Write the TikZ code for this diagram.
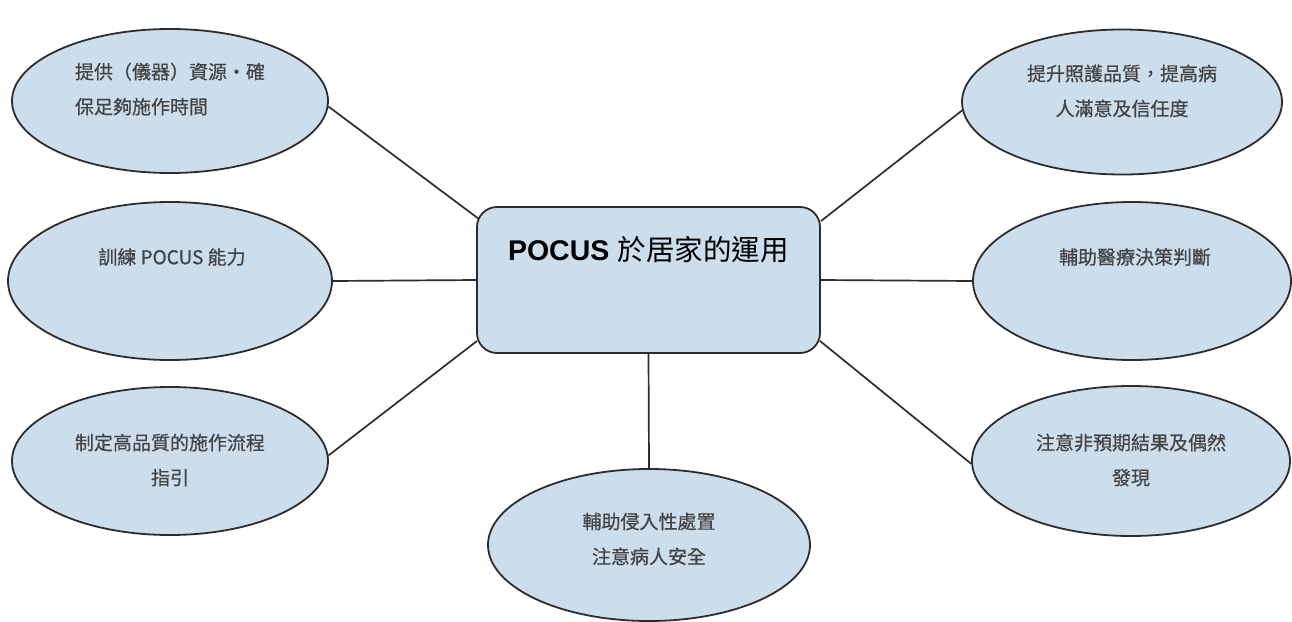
\documentclass[tikz,border=0pt]{standalone}
\usepackage{fontspec}
\usetikzlibrary{shapes.geometric,calc}
\newfontfamily\cjk{Noto Sans CJK TC}
\newfontfamily\cjkb[FakeBold=0.6]{Noto Sans CJK TC}
\newfontfamily\arialb{Liberation Sans}
\definecolor{bubble}{RGB}{204,221,236}
\definecolor{edge}{RGB}{45,45,45}
\definecolor{txt}{RGB}{68,68,68}
\tikzset{
  bub/.style={ellipse, draw=edge, line width=1.8pt, fill=bubble, inner sep=0pt},
  hub/.style={rectangle, rounded corners=20pt, draw=edge, line width=1.8pt, fill=bubble, inner sep=0pt, minimum width=343pt, minimum height=146pt},
  btxt/.style={font=\cjkb\fontsize{19}{35}\selectfont, text=txt, align=center, inner sep=0pt},
  link/.style={draw=edge, line width=1.7pt}
}
\begin{document}
\begin{tikzpicture}[x=1pt,y=-1pt]
\useasboundingbox[fill=white] (0,0) rectangle (1292,621);
% hub
\node[hub] (box) at (648.5,280) {};
\node[font=\fontsize{28.5}{30}\selectfont, inner sep=0pt, anchor=center] (title) at (648.5,250) {{\arialb\bfseries POCUS} {\cjk 於居家的運用}};
% bubbles
\node[bub, minimum width=316pt, minimum height=144pt] (tl) at (170,101) {};
\node[bub, minimum width=324pt, minimum height=158pt] (lm) at (170,281) {};
\node[bub, minimum width=316pt, minimum height=148pt] (bl) at (170,461) {};
\node[bub, minimum width=320pt, minimum height=145pt] (tr) at (1122,102) {};
\node[bub, minimum width=318pt, minimum height=158pt] (rm) at (1132,281) {};
\node[bub, minimum width=318pt, minimum height=150pt] (br) at (1131,461) {};
\node[bub, minimum width=322pt, minimum height=152pt] (bot) at (649,545) {};
% texts
\node[btxt, align=left] (tlt) at (170,89) {提供（儀器）資源‧確\\保足夠施作時間};
\node[btxt] (lmt) at (172,257) {訓練 POCUS 能力};
\node[btxt] (blt) at (170,460) {制定高品質的施作流程\\指引};
\node[btxt] (trt) at (1122,91) {提升照護品質，提高病\\人滿意及信任度};
\node[btxt] (rmt) at (1135,257) {輔助醫療決策判斷};
\node[btxt] (brt) at (1131,460) {注意非預期結果及偶然\\發現};
\node[btxt] (bott) at (649,539) {輔助侵入性處置\\注意病人安全};
% connectors
\draw[link] (tl.-2) -- ($(box.north west)+(3,13)$);
\draw[link] (lm.east) -- (box.west);
\draw[link] (bl.2) -- ($(box.south west)+(1,-13)$);
\draw[link] (tr.183) -- ($(box.north east)+(0,15)$);
\draw[link] (rm.west) -- (box.east);
\draw[link] (br.181) -- ($(box.south east)+(-1,-13)$);
\draw[link] (box.south) -- (bot.north);
\end{tikzpicture}
\end{document}
